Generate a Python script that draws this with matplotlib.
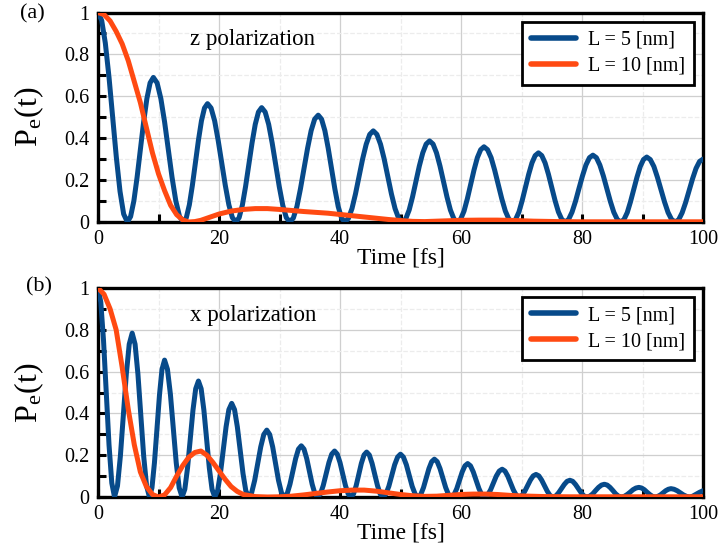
import matplotlib
matplotlib.use("Agg")
import matplotlib.pyplot as plt
from matplotlib.ticker import MultipleLocator

plt.rcParams['font.family'] = ['Liberation Serif', 'DejaVu Serif']
plt.rcParams['mathtext.fontset'] = 'stix'

# ---------------- data ----------------
# Panel (a): z polarization, L = 5 nm
t_z5 = [0, 0.61, 1.21, 1.82, 2.43, 3.03, 3.64, 4.24, 4.85,
        5.39, 5.93, 6.46, 7.0, 7.54, 8.08, 8.61, 9.15,
        9.77, 10.39, 11.01, 11.63, 12.24, 12.86, 13.48, 14.1,
        14.6, 15.1, 15.6, 16.1, 16.6, 17.1, 17.6, 18.1,
        18.69, 19.28, 19.86, 20.45, 21.04, 21.63, 22.21, 22.8,
        23.33, 23.86, 24.39, 24.93, 25.46, 25.99, 26.52, 27.05,
        27.63, 28.21, 28.79, 29.38, 29.96, 30.54, 31.12, 31.7,
        32.29, 32.88, 33.46, 34.05, 34.64, 35.23, 35.81, 36.4,
        36.95, 37.5, 38.05, 38.6, 39.15, 39.7, 40.25, 40.8,
        41.39, 41.98, 42.56, 43.15, 43.74, 44.33, 44.91, 45.5,
        46.1, 46.7, 47.3, 47.9, 48.5, 49.1, 49.7, 50.3,
        50.86, 51.43, 51.99, 52.55, 53.11, 53.68, 54.24, 54.8,
        55.38, 55.95, 56.53, 57.1, 57.68, 58.25, 58.83, 59.4,
        59.95, 60.5, 61.05, 61.6, 62.15, 62.7, 63.25, 63.8,
        64.39, 64.98, 65.56, 66.15, 66.74, 67.33, 67.91, 68.5,
        69.04, 69.58, 70.11, 70.65, 71.19, 71.73, 72.26, 72.8,
        73.35, 73.9, 74.45, 75.0, 75.55, 76.1, 76.65, 77.2,
        77.78, 78.35, 78.93, 79.5, 80.08, 80.65, 81.23, 81.8,
        82.38, 82.95, 83.53, 84.1, 84.68, 85.25, 85.83, 86.4,
        86.94, 87.48, 88.01, 88.55, 89.09, 89.63, 90.16, 90.7,
        91.29, 91.88, 92.46, 93.05, 93.64, 94.23, 94.81, 95.4,
        95.98, 96.55, 97.13, 97.7, 98.28, 98.85, 99.43, 100]
p_z5 = [1.0, 0.962, 0.854, 0.691, 0.5, 0.309, 0.146, 0.038, 0.0,
        0.026, 0.101, 0.213, 0.345, 0.477, 0.589, 0.664, 0.69,
        0.664, 0.589, 0.477, 0.345, 0.213, 0.101, 0.026, 0.0,
        0.021, 0.082, 0.175, 0.283, 0.39, 0.483, 0.544, 0.565,
        0.544, 0.483, 0.39, 0.283, 0.175, 0.082, 0.021, 0.0,
        0.021, 0.08, 0.169, 0.273, 0.377, 0.466, 0.525, 0.546,
        0.525, 0.466, 0.377, 0.273, 0.169, 0.08, 0.021, 0.0,
        0.019, 0.074, 0.158, 0.255, 0.352, 0.436, 0.491, 0.51,
        0.491, 0.436, 0.352, 0.255, 0.158, 0.074, 0.019, 0.0,
        0.017, 0.064, 0.134, 0.218, 0.301, 0.371, 0.418, 0.435,
        0.418, 0.371, 0.301, 0.218, 0.134, 0.064, 0.017, 0.0,
        0.015, 0.057, 0.12, 0.194, 0.267, 0.33, 0.372, 0.387,
        0.372, 0.33, 0.267, 0.194, 0.12, 0.057, 0.015, 0.0,
        0.014, 0.052, 0.111, 0.18, 0.248, 0.307, 0.345, 0.359,
        0.345, 0.307, 0.248, 0.18, 0.111, 0.052, 0.014, 0.0,
        0.013, 0.048, 0.102, 0.165, 0.228, 0.282, 0.317, 0.33,
        0.317, 0.282, 0.228, 0.165, 0.102, 0.048, 0.013, 0.0,
        0.012, 0.047, 0.099, 0.16, 0.22, 0.272, 0.307, 0.319,
        0.307, 0.272, 0.22, 0.16, 0.099, 0.047, 0.012, 0.0,
        0.012, 0.045, 0.096, 0.155, 0.214, 0.265, 0.298, 0.31,
        0.298, 0.265, 0.214, 0.155, 0.096, 0.045, 0.012, 0.0,
        0.011, 0.044, 0.093, 0.15, 0.207, 0.256, 0.289, 0.30]

# Panel (a): z polarization, L = 10 nm
t_z10 = [0, 1, 2, 3, 4, 5, 6, 7, 8, 9, 10, 11, 12, 13, 14, 15, 16, 17, 18,
         20, 22, 24, 26, 28, 30, 32, 34, 36, 38, 40, 42, 44, 46, 48, 50,
         52, 54, 56, 58, 60, 63, 66, 69, 72, 76, 80, 85, 90, 95, 100]
p_z10 = [1.0, 0.99, 0.96, 0.91, 0.85, 0.77, 0.67, 0.57, 0.45, 0.33, 0.23,
         0.15, 0.08, 0.035, 0.01, 0.0, 0.002, 0.008, 0.018,
         0.038, 0.052, 0.06, 0.064, 0.064, 0.06, 0.055, 0.05, 0.046, 0.042,
         0.036, 0.03, 0.024, 0.018, 0.012, 0.007,
         0.003, 0.002, 0.004, 0.006, 0.008, 0.009, 0.009, 0.007, 0.004,
         0.002, 0.001, 0.001, 0.001, 0.001, 0.001]

# Panel (b): x polarization, L = 5 nm
t_x5 = [0, 0.46, 0.91, 1.37, 1.82, 2.28, 2.73,
        3.22, 3.7, 4.19, 4.68, 5.16, 5.65,
        6.13, 6.6, 7.08, 7.55, 8.03, 8.5,
        8.92, 9.33, 9.75, 10.17, 10.58, 11.0,
        11.48, 11.97, 12.45, 12.93, 13.42, 13.9,
        14.35, 14.8, 15.25, 15.7, 16.15, 16.6,
        17.05, 17.5, 17.95, 18.4, 18.85, 19.3,
        19.77, 20.23, 20.7, 21.17, 21.63, 22.1,
        22.57, 23.03, 23.5, 23.97, 24.43, 24.9,
        25.4, 25.9, 26.4, 26.9, 27.4, 27.9,
        28.38, 28.87, 29.35, 29.83, 30.32, 30.8,
        31.27, 31.73, 32.2, 32.67, 33.13, 33.6,
        34.05, 34.5, 34.95, 35.4, 35.85, 36.3,
        36.77, 37.23, 37.7, 38.17, 38.63, 39.1,
        39.55, 40.0, 40.45, 40.9, 41.35, 41.8,
        42.23, 42.67, 43.1, 43.53, 43.97, 44.4,
        44.85, 45.3, 45.75, 46.2, 46.65, 47.1,
        47.58, 48.07, 48.55, 49.03, 49.52, 50.0,
        50.48, 50.97, 51.45, 51.93, 52.42, 52.9,
        53.35, 53.8, 54.25, 54.7, 55.15, 55.6,
        56.07, 56.53, 57.0, 57.47, 57.93, 58.4,
        58.85, 59.3, 59.75, 60.2, 60.65, 61.1,
        61.57, 62.03, 62.5, 62.97, 63.43, 63.9,
        64.38, 64.87, 65.35, 65.83, 66.32, 66.8,
        67.27, 67.73, 68.2, 68.67, 69.13, 69.6,
        70.07, 70.53, 71.0, 71.47, 71.93, 72.4,
        72.87, 73.33, 73.8, 74.27, 74.73, 75.2,
        75.67, 76.13, 76.6, 77.07, 77.53, 78.0,
        78.47, 78.93, 79.4, 79.87, 80.33, 80.8,
        81.28, 81.77, 82.25, 82.73, 83.22, 83.7,
        84.17, 84.63, 85.1, 85.57, 86.03, 86.5,
        86.98, 87.47, 87.95, 88.43, 88.92, 89.4,
        89.85, 90.3, 90.75, 91.2, 91.65, 92.1,
        92.53, 92.97, 93.4, 93.83, 94.27, 94.7,
        95.22, 95.73, 96.25, 96.77, 97.28, 97.8,
        98.3, 98.8, 99.4, 100]
p_x5 = [1.0, 0.933, 0.75, 0.5, 0.25, 0.067, 0.0,
        0.053, 0.196, 0.392, 0.588, 0.731, 0.784,
        0.731, 0.588, 0.392, 0.196, 0.053, 0.0,
        0.044, 0.164, 0.328, 0.491, 0.611, 0.655,
        0.611, 0.491, 0.328, 0.164, 0.044, 0.0,
        0.037, 0.139, 0.278, 0.416, 0.518, 0.555,
        0.518, 0.416, 0.278, 0.139, 0.037, 0.0,
        0.03, 0.112, 0.224, 0.336, 0.418, 0.448,
        0.418, 0.336, 0.224, 0.112, 0.03, 0.0,
        0.021, 0.08, 0.16, 0.24, 0.299, 0.32,
        0.299, 0.24, 0.16, 0.08, 0.021, 0.0,
        0.016, 0.061, 0.123, 0.184, 0.229, 0.245,
        0.229, 0.184, 0.123, 0.061, 0.016, 0.0,
        0.015, 0.055, 0.11, 0.165, 0.205, 0.22,
        0.205, 0.165, 0.11, 0.055, 0.015, 0.0,
        0.014, 0.054, 0.108, 0.161, 0.201, 0.215,
        0.201, 0.161, 0.108, 0.054, 0.014, 0.0,
        0.014, 0.051, 0.103, 0.154, 0.191, 0.205,
        0.191, 0.154, 0.103, 0.051, 0.014, 0.0,
        0.012, 0.045, 0.091, 0.136, 0.169, 0.181,
        0.169, 0.136, 0.091, 0.045, 0.012, 0.0,
        0.011, 0.04, 0.08, 0.12, 0.149, 0.16,
        0.149, 0.12, 0.08, 0.04, 0.011, 0.0,
        0.009, 0.033, 0.067, 0.1, 0.124, 0.133,
        0.124, 0.1, 0.067, 0.033, 0.009, 0.0,
        0.007, 0.027, 0.054, 0.081, 0.101, 0.108,
        0.101, 0.081, 0.054, 0.027, 0.007, 0.0,
        0.005, 0.02, 0.04, 0.06, 0.075, 0.08,
        0.075, 0.06, 0.04, 0.02, 0.005, 0.0,
        0.004, 0.015, 0.031, 0.046, 0.057, 0.061,
        0.057, 0.046, 0.031, 0.015, 0.004, 0.0,
        0.003, 0.012, 0.023, 0.035, 0.043, 0.046,
        0.043, 0.035, 0.023, 0.012, 0.003, 0.0,
        0.003, 0.01, 0.02, 0.03, 0.037, 0.04,
        0.037, 0.03, 0.02, 0.01, 0.003, 0.0,
        0.004, 0.012, 0.022, 0.03]

# Panel (b): x polarization, L = 10 nm
t_x10 = [0, 1, 2, 3, 4, 5, 6, 7, 8, 9, 10, 11, 12, 13, 14, 15, 16, 17, 18,
         19, 20, 21, 22, 23, 24, 26, 28, 30, 32, 34, 36, 38, 40, 42, 44, 46,
         48, 50, 52, 54, 56, 58, 60, 62, 64, 66, 68, 70, 74, 78, 82, 86, 90,
         95, 100]
p_x10 = [1.0, 0.97, 0.9, 0.8, 0.62, 0.42, 0.25, 0.12, 0.05, 0.012, 0.0,
         0.01, 0.045, 0.1, 0.15, 0.19, 0.213, 0.22, 0.2, 0.165, 0.125, 0.085,
         0.05, 0.027, 0.012, 0.002, 0.0, 0.001, 0.004, 0.01, 0.017, 0.024,
         0.03, 0.033, 0.033, 0.028, 0.02, 0.012, 0.006, 0.003, 0.004, 0.008,
         0.012, 0.014, 0.014, 0.012, 0.008, 0.005, 0.002, 0.001, 0.001,
         0.001, 0.001, 0.001, 0.001]

panel_tags = ['(a)', '(b)']
panel_notes = ['z polarization', 'x polarization']
series_labels = ['L = 5 [nm]', 'L = 10 [nm]']
x_ticks = [0, 20, 40, 60, 80, 100]
y_ticks = [0, 0.2, 0.4, 0.6, 0.8, 1.0]
y_ticklabels = ['0', '0.2', '0.4', '0.6', '0.8', '1']

BLUE = '#074A8A'
ORANGE = '#FF4A12'

W, H = 722, 555
fig = plt.figure(figsize=(W / 100, H / 100), dpi=100)

rects = [
    [98 / W, 1 - 222 / H, (703 - 98) / W, (222 - 12.5) / H],
    [98 / W, 1 - 497 / H, (703 - 98) / W, (497 - 288) / H],
]
tag_pos = [(20, 14), (26, 287)]
data = [((t_z5, p_z5), (t_z10, p_z10)), ((t_x5, p_x5), (t_x10, p_x10))]

for i, rect in enumerate(rects):
    ax = fig.add_axes(rect)
    (ta, pa), (tb, pb) = data[i]
    ax.plot(ta, pa, color=BLUE, lw=3.6, label=series_labels[0],
            solid_joinstyle='round', solid_capstyle='round', zorder=3)
    ax.plot(tb, pb, color=ORANGE, lw=3.6, label=series_labels[1],
            solid_joinstyle='round', solid_capstyle='round', zorder=3)
    ax.set_xlim(0, 100)
    ax.set_ylim(0, 1)
    ax.set_xticks(x_ticks)
    ax.set_xticklabels([str(v) for v in x_ticks])
    ax.set_yticks(y_ticks)
    ax.set_yticklabels(y_ticklabels)
    ax.xaxis.set_minor_locator(MultipleLocator(10))
    ax.yaxis.set_minor_locator(MultipleLocator(0.1))
    ax.grid(True, which='major', color='#cfcfcf', lw=0.9, zorder=0)
    ax.grid(True, which='minor', color='#ececec', lw=0.9, ls='--', zorder=0)
    ax.set_axisbelow(True)
    ax.tick_params(which='both', direction='in', length=6, width=2.2,
                   labelsize=14.5, color='black', top=False, right=False)
    ax.tick_params(axis='x', which='both', pad=6)
    ax.tick_params(axis='y', which='both', pad=6)
    for s in ax.spines.values():
        s.set_linewidth(2.4)
        s.set_color('black')
    ax.set_xlabel('Time [fs]', fontsize=17, labelpad=-1)
    ax.set_ylabel(r'P$_\mathregular{e}$(t)', fontsize=23, labelpad=13)
    ax.text(15.2, 0.87, panel_notes[i], fontsize=16.5, va='center', ha='left')
    leg = ax.legend(loc='upper right', fontsize=14.5, handlelength=2.2,
                    frameon=True, fancybox=False, framealpha=1,
                    borderaxespad=0.45, borderpad=0.45, labelspacing=0.35,
                    handletextpad=0.6)
    leg.get_frame().set_edgecolor('black')
    leg.get_frame().set_linewidth(2.0)
    for ln in leg.get_lines():
        ln.set_linewidth(4.0)
    tx, ty = tag_pos[i]
    fig.text(tx / W, 1 - ty / H, panel_tags[i], fontsize=16,
             va='center', ha='left')

fig.savefig('out.png', dpi=100)
